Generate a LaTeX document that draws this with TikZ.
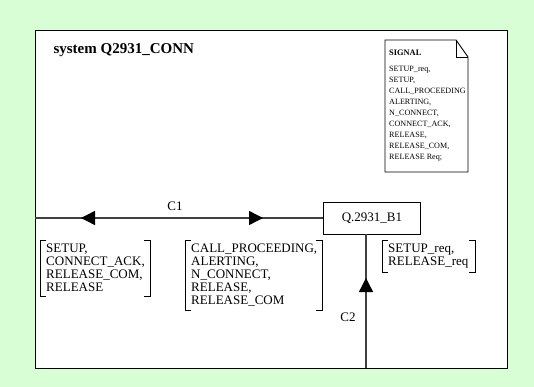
\documentclass[tikz,border=0pt]{standalone}
\usepackage{fontspec}
\setmainfont{Liberation Serif}
\usepackage{tikz}
\usetikzlibrary{positioning,arrows.meta,decorations.markings,calc}

\definecolor{bggreen}{RGB}{216,254,214}
\definecolor{chgray}{RGB}{64,64,64}

% brackets round a signal list node
\newcommand{\sigbrackets}[1]{%
  \draw[bracket] ([xshift=6pt]#1.north west) -| (#1.south west) -- ++(6pt,0);
  \draw[bracket] ([xshift=-6pt]#1.north east) -| (#1.south east) -- ++(-6pt,0);
}

\begin{document}
\begin{tikzpicture}[
    x=1pt, y=-1pt,
    block/.style={rectangle, draw=black, line width=0.9pt, fill=white, minimum width=97pt, minimum height=32pt, font=\fontsize{13}{13}\selectfont},
    sigset/.style={rectangle, inner xsep=6pt, inner ysep=4pt, align=left, anchor=north west, font=\fontsize{13}{13}\selectfont},
    notetext/.style={inner sep=0pt, anchor=north west, align=left, font=\fontsize{8.1}{11}\selectfont},
    bracket/.style={line width=0.9pt, black},
    channel/.style={line width=1.4pt, chgray},
    chtip/.tip={Triangle[length=14pt,width=14pt,black]},
    lbl/.style={font=\fontsize{13}{13}\selectfont}
]

\fill[bggreen] (0,0) rectangle (534,387);
\useasboundingbox (0,0) rectangle (534,387);
\draw[line width=0.9pt, fill=white] (35,30) rectangle (507,368);

\node[anchor=west, font=\fontsize{15}{17}\selectfont\bfseries] (title) at (50,50) {system Q2931\_CONN};

% signal note
\draw[line width=0.9pt, fill=white] (385,40) -- (456,40) -- (468,57) -- (468,172) -- (385,172) -- cycle;
\draw[line width=0.9pt] (456,40) -- (456,57) -- (468,57);
\node[notetext, font=\fontsize{8.4}{11}\selectfont\bfseries] (sighead) at (389,50) {SIGNAL};
\node[notetext, below=10pt of sighead.south west, anchor=north west] (siglist) {SETUP\_req,\\SETUP,\\CALL\_PROCEEDING\\ALERTING,\\N\_CONNECT,\\CONNECT\_ACK,\\RELEASE,\\RELEASE\_COM,\\RELEASE Req;};

% block and channels
\node[block] (b1) at (372,218) {Q.2931\_B1};
\coordinate (envleft) at (35,218);
\coordinate (envbottom) at (366,368);

\draw[channel, postaction={decorate}, decoration={markings,
    mark=at position 46pt with {\arrowreversed{chtip}},
    mark=at position 228pt with {\arrow{chtip}}}]
  (envleft) -- (b1.west);
\draw[channel, postaction={decorate}, decoration={markings,
    mark=at position 90pt with {\arrow{chtip}}}]
  (envbottom) -- (envbottom |- b1.south);

\node[lbl] (c1) at (175,206) {C1};
\node[lbl] (c2) at (348,317) {C2};

% signal lists
\node[sigset, text width=98pt] (sl1) at (40,240) {SETUP,\\CONNECT\_ACK,\\RELEASE\_COM,\\RELEASE};
\sigbrackets{sl1}
\node[sigset, text width=125pt] (sl2) at (185,240) {CALL\_PROCEEDING,\\ALERTING,\\N\_CONNECT,\\RELEASE,\\RELEASE\_COM};
\sigbrackets{sl2}
\node[sigset, text width=81pt] (sl3) at (382,240) {SETUP\_req,\\RELEASE\_req};
\sigbrackets{sl3}

\end{tikzpicture}
\end{document}
